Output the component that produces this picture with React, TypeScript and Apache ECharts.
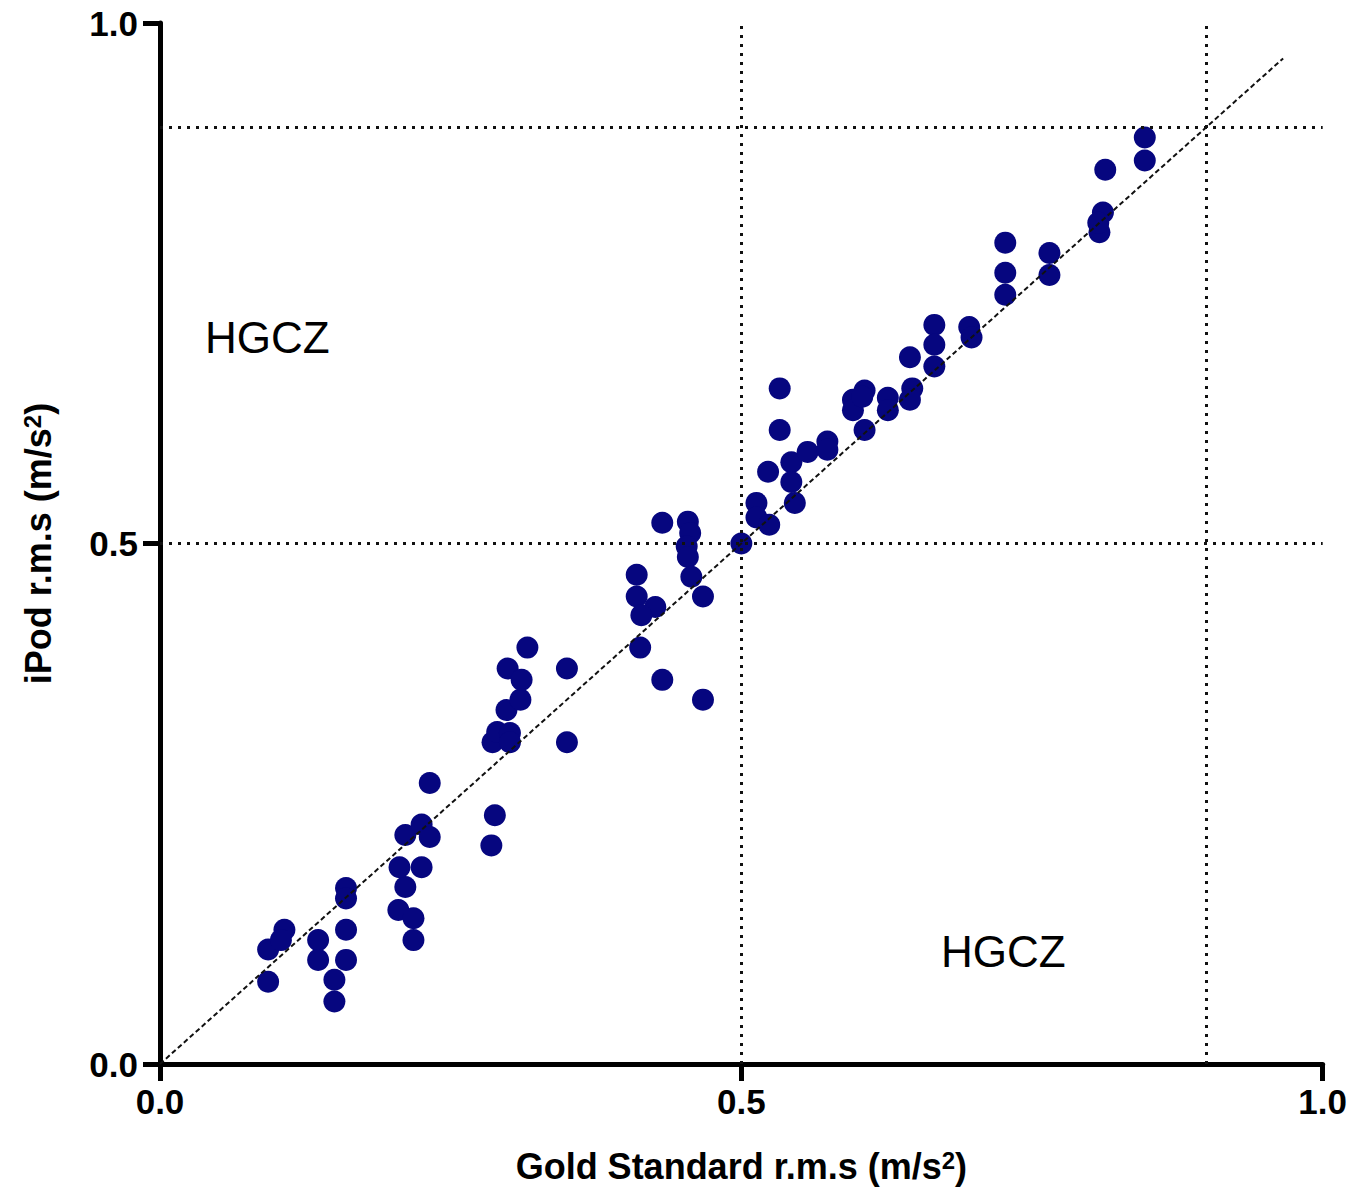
import React, { useEffect, useRef } from "react";
import * as echarts from "echarts";

// Gold standard r.m.s (x) against iPod r.m.s (y), both in m/s²
const goldRms = [
  0.093, 0.093, 0.107, 0.104, 0.136, 0.136, 0.15, 0.15, 0.16, 0.16, 0.16, 0.16,
  0.205, 0.218, 0.218, 0.211, 0.206, 0.225, 0.211, 0.225, 0.232, 0.232,
  0.288, 0.285, 0.286, 0.29, 0.301, 0.301, 0.298, 0.31, 0.299, 0.311, 0.316, 0.35, 0.35,
  0.432, 0.454, 0.456, 0.453, 0.454, 0.457, 0.467, 0.41, 0.41, 0.426, 0.414, 0.413, 0.432, 0.467, 0.5,
  0.533, 0.533, 0.523, 0.543, 0.557, 0.574, 0.574, 0.543, 0.546, 0.513, 0.513, 0.524,
  0.596, 0.596, 0.606, 0.604, 0.606, 0.626, 0.626, 0.647, 0.645, 0.645, 0.666, 0.666, 0.666, 0.696, 0.698,
  0.727, 0.727, 0.727, 0.765, 0.765, 0.808, 0.811, 0.807, 0.813, 0.847, 0.847,
];
const ipodRms = [
  0.11, 0.079, 0.129, 0.119, 0.119, 0.1, 0.081, 0.06, 0.169, 0.159, 0.129, 0.1,
  0.148, 0.14, 0.119, 0.17, 0.189, 0.189, 0.22, 0.23, 0.218, 0.27,
  0.239, 0.21, 0.309, 0.319, 0.318, 0.309, 0.34, 0.35, 0.38, 0.369, 0.4, 0.38, 0.309,
  0.52, 0.521, 0.51, 0.497, 0.487, 0.468, 0.449, 0.47, 0.449, 0.439, 0.431, 0.4, 0.369, 0.35, 0.5,
  0.649, 0.609, 0.569, 0.578, 0.588, 0.598, 0.59, 0.559, 0.539, 0.539, 0.525, 0.518,
  0.638, 0.628, 0.647, 0.641, 0.609, 0.64, 0.628, 0.649, 0.638, 0.679, 0.71, 0.691, 0.67, 0.708, 0.698,
  0.789, 0.76, 0.739, 0.779, 0.758, 0.799, 0.818, 0.808, 0.859, 0.89, 0.868,
];

// Line of identity and the two threshold levels
const identityLine = [
  [0, 0],
  [0.966, 0.966],
];
const thresholds = [0.5, 0.9];
const axisTicks = [0, 0.5, 1];
const zoneLabel = "HGCZ";

const FONT = "'Liberation Sans', Arial, Helvetica, sans-serif";

export default function App() {
  const ref = useRef<HTMLDivElement>(null);

  useEffect(() => {
    if (!ref.current) return;
    const chart = echarts.init(ref.current, null, { renderer: "svg" });

    const points = goldRms.map((x, i) => [x, ipodRms[i]]);
    const dotted = { color: "#111", width: 3, type: [3, 6] as number[], cap: "butt" };

    const axisCommon = {
      type: "value" as const,
      min: axisTicks[0],
      max: axisTicks[axisTicks.length - 1],
      interval: 0.5,
      splitLine: { show: false },
      axisLine: { lineStyle: { color: "#000", width: 5 } },
      axisTick: { length: 17, lineStyle: { color: "#000", width: 5 } },
      nameLocation: "middle" as const,
    };
    const nameStyle = {
      fontFamily: FONT,
      fontSize: 36,
      fontWeight: "bold" as const,
      color: "#000",
      rich: {
        sup: {
          fontFamily: FONT,
          fontSize: 24,
          fontWeight: "bold" as const,
          color: "#000",
          verticalAlign: "top" as const,
        },
      },
    };
    const labelStyle = {
      fontFamily: FONT,
      fontSize: 35,
      fontWeight: "bold" as const,
      color: "#000",
      formatter: (v: number) => v.toFixed(1),
    };
    const zoneText = {
      text: zoneLabel,
      fontFamily: FONT,
      fontSize: 44,
      fill: "#000",
      verticalAlign: "middle" as const,
    };

    chart.setOption({
      animation: false,
      backgroundColor: "#fff",
      grid: { left: 160, right: 27, top: 23, bottom: 125, containLabel: false },
      xAxis: {
        ...axisCommon,
        name: "Gold Standard r.m.s (m/s{sup|2})",
        nameGap: 84,
        nameTextStyle: nameStyle,
        axisLabel: { ...labelStyle, margin: 20 },
      },
      yAxis: {
        ...axisCommon,
        name: "iPod r.m.s (m/s{sup|2})",
        nameGap: 104,
        nameRotate: 90,
        nameTextStyle: nameStyle,
        axisLabel: { ...labelStyle, margin: 22 },
      },
      graphic: [
        { type: "text", x: 205, y: 337, style: zoneText },
        { type: "text", x: 941, y: 951, style: zoneText },
      ],
      series: [
        {
          type: "scatter",
          data: points,
          symbol: "circle",
          symbolSize: 22,
          itemStyle: { color: "#06067f", opacity: 1 },
          z: 2,
        },
        {
          type: "line",
          data: identityLine,
          symbol: "none",
          silent: true,
          lineStyle: { color: "#111", width: 2, type: [5, 3] },
          z: 3,
          markLine: {
            silent: true,
            symbol: "none",
            label: { show: false },
            lineStyle: dotted,
            data: [
              ...thresholds.map((v) => ({ xAxis: v })),
              ...thresholds.map((v) => ({ yAxis: v })),
            ],
          },
        },
      ],
    });

    return () => chart.dispose();
  }, []);

  return (
    <div
      ref={ref}
      style={{ position: "fixed", left: 0, top: 0, width: 1350, height: 1189 }}
    />
  );
}
